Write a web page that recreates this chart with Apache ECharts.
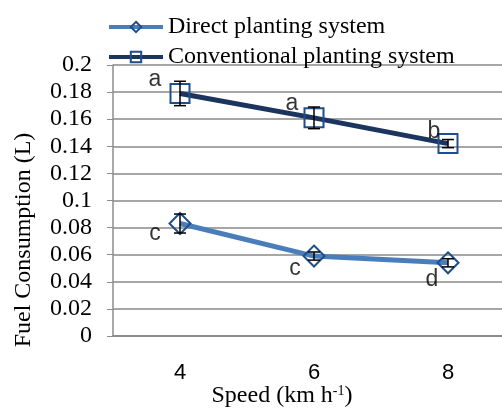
<!DOCTYPE html>
<html>
<head>
<meta charset="utf-8">
<script src="https://cdn.jsdelivr.net/npm/echarts@6/dist/echarts.min.js"></script>
<style>
  html, body { margin: 0; padding: 0; background: #fff; }
  #chart { width: 502px; height: 408px; }
</style>
</head>
<body>
<div id="chart"></div>
<script>
// data
const speeds = ['4', '6', '8'];
const directVals = [0.083, 0.059, 0.054];
const directErr = [0.007, 0.003, 0.003];
const directLetters = ['c', 'c', 'd'];
const convVals = [0.179, 0.161, 0.142];
const convErr = [0.009, 0.008, 0.003];
const convLetters = ['a', 'a', 'b'];
const yTicks = [0, 0.02, 0.04, 0.06, 0.08, 0.1, 0.12, 0.14, 0.16, 0.18, 0.2];

const serif = '"Liberation Serif", "DejaVu Serif", serif';
const sans = '"Liberation Sans", Arial, sans-serif';

// where each letter sits next to its point
const directOffsets = [[-25, 10], [-19, 13], [-16, 17]];
const convOffsets = [[-25, -14], [-22, -14], [-14, -12]];

function errorSeries(vals, errs) {
  return {
    type: 'custom',
    z: 5,
    silent: true,
    data: vals.map((v, i) => [i, v - errs[i], v + errs[i]]),
    renderItem: function (params, api) {
      const lo = api.coord([api.value(0), api.value(1)]);
      const hi = api.coord([api.value(0), api.value(2)]);
      const w = 6;
      const st = { stroke: '#000', lineWidth: 1.5 };
      return {
        type: 'group',
        children: [
          { type: 'line', shape: { x1: lo[0], y1: lo[1], x2: hi[0], y2: hi[1] }, style: st },
          { type: 'line', shape: { x1: lo[0] - w, y1: lo[1], x2: lo[0] + w, y2: lo[1] }, style: st },
          { type: 'line', shape: { x1: hi[0] - w, y1: hi[1], x2: hi[0] + w, y2: hi[1] }, style: st }
        ]
      };
    }
  };
}

function letterSeries(vals, letters, offsets) {
  return {
    type: 'scatter',
    symbolSize: 0,
    silent: true,
    z: 6,
    data: vals.map((v, i) => ({
      value: [i, v],
      label: {
        show: true,
        formatter: letters[i],
        offset: offsets[i],
        position: 'inside',
        color: '#000',
        fontFamily: sans,
        fontSize: 23
      }
    }))
  };
}

const chart = echarts.init(document.getElementById('chart'));
chart.setOption({
  animation: false,
  backgroundColor: '#fff',
  legend: {
    orient: 'vertical',
    left: 102,
    top: 10,
    itemWidth: 54,
    itemHeight: 13,
    itemGap: 6,
    lineStyle: { width: 4 },
    textStyle: { fontFamily: serif, fontSize: 24, color: '#000' },
    data: ['Direct planting system', 'Conventional planting system']
  },
  grid: { left: 113, top: 65, width: 402, bottom: 72, outerBoundsMode: 'none' },
  xAxis: {
    type: 'category',
    data: speeds,
    boundaryGap: true,
    axisLine: { lineStyle: { color: '#8c8c8c', width: 2 } },
    axisTick: { show: false },
    axisLabel: { margin: 26, fontFamily: sans, fontSize: 22, color: '#000' }
  },
  yAxis: {
    type: 'value',
    min: 0,
    max: 0.2,
    interval: 0.02,
    axisLine: { show: true, lineStyle: { color: '#8c8c8c', width: 1.5 } },
    axisTick: { show: true, length: 6, lineStyle: { color: '#8c8c8c' } },
    splitLine: { lineStyle: { color: '#a6a6a6', width: 2 } },
    axisLabel: {
      margin: 21,
      fontFamily: serif,
      fontSize: 24,
      color: '#000',
      formatter: function (v) {
        const t = yTicks.find(x => Math.abs(x - v) < 1e-9);
        return String(t !== undefined ? t : v);
      }
    }
  },
  graphic: [
    {
      type: 'text',
      x: 24,
      y: 240,
      rotation: Math.PI / 2,
      style: {
        text: 'Fuel Consumption (L)',
        align: 'center',
        verticalAlign: 'middle',
        fontFamily: serif,
        fontSize: 24,
        fill: '#000'
      }
    },
    {
      type: 'text',
      x: 282,
      y: 396,
      style: {
        text: '{n|Speed (km h}{s|-1}{n|)}',
        align: 'center',
        verticalAlign: 'middle',
        rich: {
          n: { fontFamily: serif, fontSize: 24, color: '#000' },
          s: { fontFamily: serif, fontSize: 14, color: '#000', verticalAlign: 'top', padding: [0, 0, 10, 0] }
        }
      }
    }
  ],
  series: [
    {
      name: 'Direct planting system',
      type: 'line',
      data: directVals,
      symbol: 'diamond',
      symbolSize: 21,
      lineStyle: { color: '#4a7ebb', width: 5 },
      itemStyle: { color: 'rgba(255,255,255,0)', borderColor: '#1f4e8c', borderWidth: 2 },
      z: 3
    },
    {
      name: 'Conventional planting system',
      type: 'line',
      data: convVals,
      symbol: 'rect',
      symbolSize: 19,
      lineStyle: { color: '#1b355e', width: 5 },
      itemStyle: { color: 'rgba(255,255,255,0)', borderColor: '#1f4e8c', borderWidth: 2 },
      z: 3
    },
    errorSeries(directVals, directErr),
    errorSeries(convVals, convErr),
    letterSeries(directVals, directLetters, directOffsets),
    letterSeries(convVals, convLetters, convOffsets)
  ]
});
</script>
</body>
</html>
